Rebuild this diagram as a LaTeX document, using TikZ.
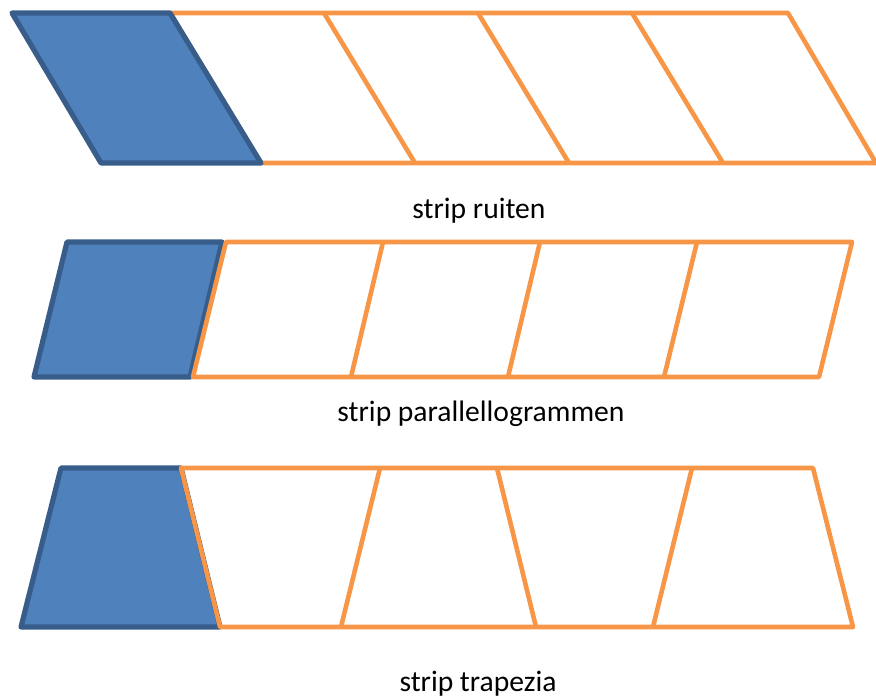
\documentclass[tikz,border=0pt]{standalone}
\usepackage{fontspec}
\setmainfont{Carlito}
\definecolor{bluefill}{HTML}{4F81BD}
\definecolor{blueline}{HTML}{385D8A}
\definecolor{orangeline}{HTML}{F79646}
\begin{document}
\begin{tikzpicture}[x=1pt,y=-1pt,
  tile/.style={draw=orangeline,line width=4.6pt,line join=round},
  base/.style={draw=blueline,fill=bluefill,line width=5.2pt,line join=round},
  caption/.style={font=\fontsize{29.6}{32}\selectfont,text=black,anchor=base,inner sep=0pt}]
\useasboundingbox (0,0) rectangle (876,699);
% row 1: rhombi
\draw[tile] (170,13) -- (788,13) -- (876,163) -- (261,163) -- cycle;
\draw[tile] (324,13) -- (415,163);
\draw[tile] (478,13) -- (569,163);
\draw[tile] (632,13) -- (723,163);
\draw[base] (12,13) -- (170,13) -- (261,163) -- (101,163) -- cycle;
\node[caption] (t1) at (479,218) {strip ruiten};
% row 2: parallelograms
\draw[base] (67,242) -- (222,242) -- (190,377) -- (34,377) -- cycle;
\draw[tile] (226,242) -- (852,242) -- (819,377) -- (193,377) -- cycle;
\draw[tile] (383,242) -- (351,377);
\draw[tile] (540,242) -- (508,377);
\draw[tile] (697,242) -- (664,377);
\node[caption] (t2) at (481,421) {strip parallellogrammen};
% row 3: trapezia
\draw[base] (61,468) -- (181,468) -- (220,627) -- (21,627) -- cycle;
\draw[tile] (181,468) -- (813,468) -- (853,627) -- (220,627) -- cycle;
\draw[tile] (380,468) -- (341,627);
\draw[tile] (497,468) -- (536,627);
\draw[tile] (692,468) -- (653,627);
\node[caption] (t3) at (478,691) {strip trapezia};
\end{tikzpicture}
\end{document}
